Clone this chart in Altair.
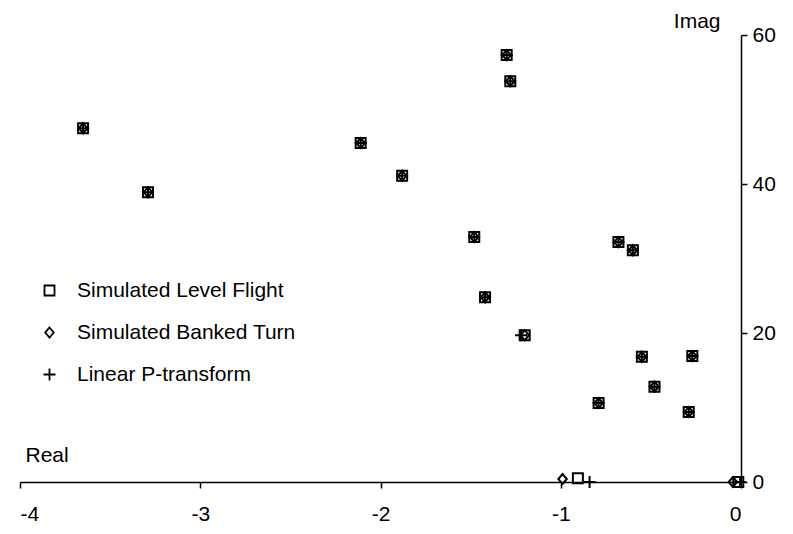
import altair as alt
import pandas as pd

series_names = ["Simulated Level Flight", "Simulated Banked Turn", "Linear P-transform"]

level_real = [-3.65, -3.29, -2.11, -1.88, -1.30, -1.28, -1.48, -1.42, -1.20, -0.68, -0.60, -0.55, -0.27, -0.48, -0.79, -0.29, -0.905, -0.015]
level_imag = [47.5, 38.9, 45.5, 41.1, 57.3, 53.8, 32.9, 24.8, 19.7, 32.2, 31.1, 16.8, 16.9, 12.8, 10.6, 9.4, 0.5, 0.0]

banked_real = [-3.65, -3.29, -2.11, -1.88, -1.30, -1.28, -1.48, -1.42, -1.20, -0.68, -0.60, -0.55, -0.27, -0.48, -0.79, -0.29, -0.99, -0.045]
banked_imag = [47.5, 38.9, 45.5, 41.1, 57.3, 53.8, 32.9, 24.8, 19.7, 32.2, 31.1, 16.8, 16.9, 12.8, 10.6, 9.4, 0.4, 0.0]

ptrans_real = [-3.65, -3.29, -2.11, -1.88, -1.30, -1.28, -1.48, -1.42, -1.22, -0.68, -0.60, -0.55, -0.27, -0.48, -0.79, -0.29, -0.84, -0.005]
ptrans_imag = [47.5, 38.9, 45.5, 41.1, 57.3, 53.8, 32.9, 24.8, 19.7, 32.2, 31.1, 16.8, 16.9, 12.8, 10.6, 9.4, 0.0, 0.0]

x_ticks = [-4, -3, -2, -1, 0]
y_ticks = [0, 20, 40, 60]

rows = []
for name, xs, ys in zip(series_names,
                        [level_real, banked_real, ptrans_real],
                        [level_imag, banked_imag, ptrans_imag]):
    for x, y in zip(xs, ys):
        rows.append({"series": name, "real": x, "imag": y})
df = pd.DataFrame(rows)

FONT = "Liberation Sans"
FS = 21
plus_path = "M-1.2,0H1.2M0,-1.2V1.2"
diamond_path = "M0,-1L0.85,0L0,1L-0.85,0Z"

chart = alt.Chart(df).mark_point(filled=False, size=100, strokeWidth=2, color="black", opacity=1).encode(
    x=alt.X("real:Q",
            scale=alt.Scale(domain=[-4, 0], nice=False, zero=False),
            axis=alt.Axis(values=x_ticks, title="Real", titleAngle=0, titleAlign="left",
                          titleX=5, titleY=-21, titleBaseline="alphabetic",
                          titleFontWeight="normal", titleFontSize=FS, titleFont=FONT,
                          labelExpr="'' + datum.value", labelPadding=15, tickSize=6,
                          labelFontSize=FS, labelFont=FONT, grid=False)),
    y=alt.Y("imag:Q",
            scale=alt.Scale(domain=[0, 60], nice=False),
            axis=alt.Axis(orient="right", values=y_ticks, title="Imag", titleAngle=0,
                          titleAlign="right", titleX=-21, titleY=-8, titleBaseline="alphabetic",
                          titleFontWeight="normal", titleFontSize=FS, titleFont=FONT,
                          labelPadding=5, tickSize=6, labelFontSize=FS, labelFont=FONT,
                          grid=False)),
    shape=alt.Shape("series:N",
                    scale=alt.Scale(domain=series_names, range=["square", diamond_path, plus_path]),
                    legend=alt.Legend(title=None, orient="none", legendX=19, legendY=245,
                                      labelFontSize=FS, labelFont=FONT, labelOffset=17,
                                      labelLimit=400,
                                      rowPadding=20, symbolSize=100, symbolStrokeWidth=1.8,
                                      symbolStrokeColor="black", symbolFillColor="transparent",
                                      padding=0, labelColor="black")),
).properties(
    width=721,
    height=447,
    autosize=alt.AutoSizeParams(type="none"),
    padding={"left": 12, "top": 27, "right": 40, "bottom": 48},
).configure_axis(
    domainColor="black", tickColor="black", labelColor="black", titleColor="black",
    domainWidth=1.5, tickWidth=1.5,
).configure_view(stroke=None)

chart.save("out.html", embed_options={"renderer": "svg", "actions": False})
